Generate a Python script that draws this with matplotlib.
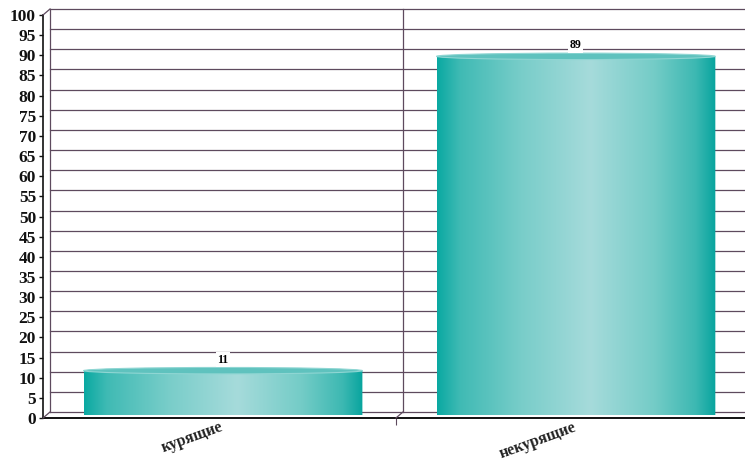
import numpy as np
import matplotlib.pyplot as plt
from matplotlib.transforms import ScaledTranslation
from matplotlib.patches import Ellipse, Path, PathPatch
from matplotlib.colors import LinearSegmentedColormap

# Data
categories = ['курящие', 'некурящие']
values = [11, 89]
y_ticks = list(range(0, 101, 5))

fig = plt.figure(figsize=(7.45, 4.61), dpi=100)
ax = fig.add_axes([43 / 745, 43 / 461, 702 / 745, 403 / 461])
ax.set_xlim(0, 1.989)
ax.set_ylim(0, 100)

# depth offsets (back wall and bar middle)
back = ax.transData + ScaledTranslation(7 / 100, 6 / 100, fig.dpi_scale_trans)
mid = ax.transData + ScaledTranslation(3.5 / 100, 3 / 100, fig.dpi_scale_trans)

grid_col = '#5e4a5e'
xmax = 1.989
for v in y_ticks:
    ax.plot([0, xmax], [v, v], color=grid_col, lw=0.9, transform=back, clip_on=False, zorder=1)
ax.plot([0, 0], [0, 100], color=grid_col, lw=0.9, transform=back, clip_on=False, zorder=1)
ax.plot([1, 1], [0, 100], color=grid_col, lw=0.9, transform=back, clip_on=False, zorder=1)
# diagonals from front to back
for (x, y) in [(0, 100), (0, 0), (1, 0)]:
    p0 = ax.transData.transform((x, y))
    p1 = back.transform((x, y))
    fig.add_artist(plt.Line2D([p0[0] / 745, p1[0] / 745], [p0[1] / 461, p1[1] / 461],
                              color=grid_col, lw=0.9, zorder=1))

# cylinder gradient
cmap = LinearSegmentedColormap.from_list('cyl', [
    (0.0, '#0aa9a2'), (0.08, '#3fbab4'), (0.3, '#78cdc9'),
    (0.55, '#a6dbdb'), (0.78, '#74ccc7'), (0.93, '#3cb8b2'), (1.0, '#08a59e')])
grad = np.linspace(0, 1, 256).reshape(1, -1)

width = 0.79
ell_h = 1.6
for i, val in enumerate(values):
    cx = i + 0.5
    x0, x1 = cx - width / 2, cx + width / 2
    im = ax.imshow(grad, cmap=cmap, aspect='auto', extent=[x0, x1, 0, val],
                   transform=mid, zorder=3, interpolation='bilinear')
    t = np.linspace(np.pi, 2 * np.pi, 60)
    bx = cx + width / 2 * np.cos(t)
    by = ell_h / 2 * np.sin(t)
    verts = [(x0, val)] + list(zip(bx, by)) + [(x1, val), (x0, val)]
    codes = [Path.MOVETO] + [Path.LINETO] * (len(verts) - 2) + [Path.CLOSEPOLY]
    clip = PathPatch(Path(verts, codes), transform=mid, facecolor='none', edgecolor='none')
    ax.add_patch(clip)
    im.set_clip_path(clip)
    top = Ellipse((cx, val), width, ell_h, transform=mid, facecolor='#5fc2be',
                  edgecolor='#8fd6d3', lw=0.8, zorder=4)
    ax.add_patch(top)
    ax.annotate(str(val), xy=(cx, val), xycoords=mid, xytext=(0, 11),
                textcoords='offset pixels', ha='center', va='center',
                fontsize=8.5, fontweight='bold', family='Liberation Serif', zorder=5,
                bbox=dict(facecolor='white', edgecolor='none', pad=1.2))

# axes styling
for s in ['top', 'right']:
    ax.spines[s].set_visible(False)
ax.spines['left'].set_color('#111111')
ax.spines['bottom'].set_color('#111111')
ax.spines['left'].set_linewidth(1.2)
ax.spines['bottom'].set_linewidth(1.4)
ax.spines['left'].set_zorder(6)
ax.spines['bottom'].set_zorder(6)

ax.set_yticks(y_ticks)
ax.set_yticklabels([str(v) for v in y_ticks], fontsize=12.5, fontweight='bold',
                   family='Liberation Serif')
ax.tick_params(axis='y', length=3, width=1, pad=2, colors='#111111')

ax.set_xticks([1])
ax.set_xticklabels([''])
ax.tick_params(axis='x', length=5, width=0.8, color=grid_col)
for i, name in enumerate(categories):
    ax.text(i + 0.5, -0.3, name, transform=ax.transData, rotation=20,
            ha='right', va='top', rotation_mode='anchor', fontsize=11.5,
            fontweight='bold', family='Liberation Serif', color='#222222')

fig.savefig('out.png', dpi=100)
